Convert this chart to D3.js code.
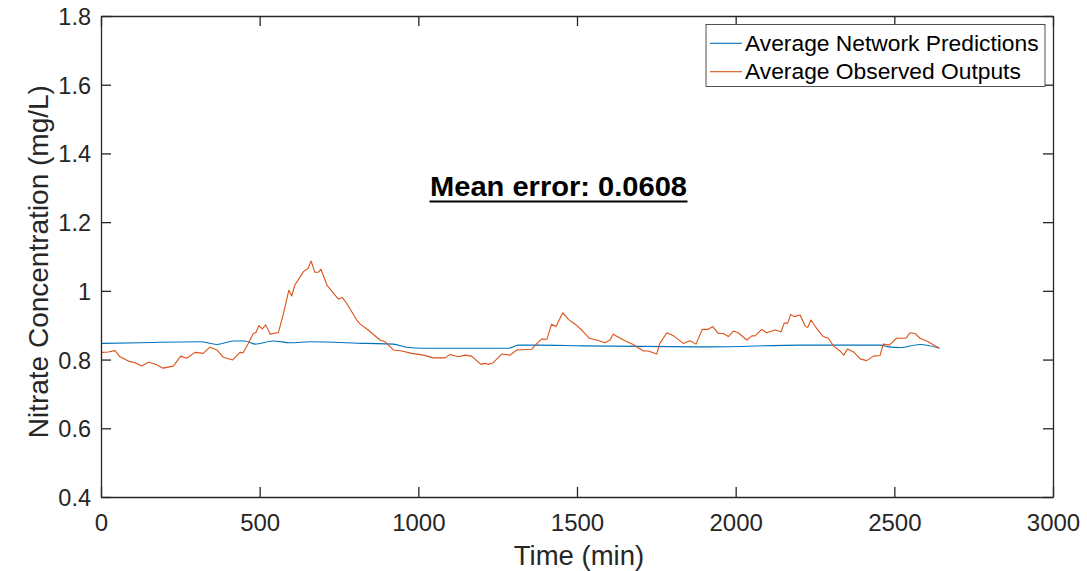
<!DOCTYPE html>
<html>
<head>
<meta charset="utf-8">
<script src="https://cdn.jsdelivr.net/npm/d3@7"></script>
<style>
  html, body { margin: 0; padding: 0; background: #fff; }
  svg { display: block; }
  text { font-family: "Liberation Sans", Arial, sans-serif; }
</style>
</head>
<body>
<svg id="chart" width="1087" height="571"></svg>
<script>
// ---- data ----
const xTicks = [0, 500, 1000, 1500, 2000, 2500, 3000];
const yTicks = [0.4, 0.6, 0.8, 1.0, 1.2, 1.4, 1.6, 1.8];
const seriesNames = ["Average Network Predictions", "Average Observed Outputs"];
const annotation = "Mean error: 0.0608";

const predTime = [2, 123, 312, 365, 417, 454, 485, 543, 596, 659, 837, 921, 963, 1016, 1163, 1284, 1315, 1373, 1520, 1919, 2203, 2455, 2481, 2518, 2581, 2642];
const predValue = [0.847, 0.849, 0.852, 0.844, 0.854, 0.854, 0.845, 0.854, 0.849, 0.852, 0.847, 0.845, 0.836, 0.833, 0.833, 0.833, 0.842, 0.842, 0.840, 0.837, 0.842, 0.842, 0.837, 0.835, 0.844, 0.833];

const obsTime = [2, 23, 44, 60, 91, 107, 128, 149, 170, 196, 228, 251, 270, 296, 322, 343, 365, 385, 415, 438, 448, 464, 480, 488, 498, 508, 519, 533, 559, 574, 592, 601, 611, 638, 653, 662, 674, 685, 693, 713, 748, 760, 774, 806, 816, 842, 879, 895, 921, 948, 979, 1016, 1047, 1084, 1100, 1126, 1147, 1168, 1197, 1210, 1220, 1236, 1263, 1289, 1310, 1357, 1371, 1389, 1405, 1420, 1434, 1455, 1473, 1494, 1515, 1539, 1562, 1588, 1604, 1614, 1651, 1677, 1709, 1725, 1751, 1761, 1783, 1804, 1835, 1856, 1875, 1895, 1914, 1928, 1945, 1961, 1977, 1993, 2008, 2035, 2051, 2061, 2082, 2098, 2124, 2143, 2153, 2164, 2173, 2184, 2203, 2219, 2227, 2237, 2255, 2276, 2292, 2308, 2329, 2341, 2352, 2373, 2392, 2413, 2434, 2455, 2465, 2484, 2507, 2537, 2549, 2565, 2581, 2607, 2628, 2642];
const obsValue = [0.821, 0.822, 0.826, 0.808, 0.794, 0.791, 0.781, 0.792, 0.787, 0.775, 0.781, 0.810, 0.804, 0.821, 0.818, 0.836, 0.828, 0.807, 0.799, 0.821, 0.820, 0.847, 0.876, 0.879, 0.899, 0.889, 0.901, 0.874, 0.879, 0.930, 1.002, 0.985, 1.017, 1.056, 1.066, 1.087, 1.054, 1.054, 1.063, 1.015, 0.976, 0.981, 0.964, 0.915, 0.904, 0.886, 0.857, 0.852, 0.828, 0.825, 0.818, 0.813, 0.805, 0.805, 0.815, 0.808, 0.813, 0.810, 0.786, 0.789, 0.786, 0.791, 0.816, 0.813, 0.828, 0.830, 0.844, 0.860, 0.859, 0.903, 0.896, 0.936, 0.917, 0.903, 0.886, 0.862, 0.857, 0.849, 0.857, 0.874, 0.855, 0.844, 0.825, 0.825, 0.816, 0.847, 0.878, 0.869, 0.847, 0.855, 0.845, 0.888, 0.888, 0.896, 0.876, 0.876, 0.867, 0.883, 0.878, 0.857, 0.869, 0.869, 0.888, 0.878, 0.886, 0.881, 0.906, 0.906, 0.931, 0.925, 0.930, 0.898, 0.893, 0.915, 0.891, 0.867, 0.862, 0.840, 0.825, 0.813, 0.831, 0.821, 0.802, 0.797, 0.810, 0.812, 0.845, 0.842, 0.862, 0.862, 0.878, 0.876, 0.862, 0.852, 0.840, 0.833];

const colors = ["#0072BD", "#D95319"];

// ---- layout ----
const svg = d3.select("#chart");
const L = 101, R = 1053, T = 16, B = 497;
const axisColor = "#262626";
const tickLen = 10;

const x = d3.scaleLinear().domain([0, 3000]).range([L, R]);
const y = d3.scaleLinear().domain([0.4, 1.8]).range([B, T]);

// series lines
const pred = predTime.map((t, i) => [t, predValue[i]]);
const obs = obsTime.map((t, i) => [t, obsValue[i]]);

const lineSmooth = d3.line().x(d => x(d[0])).y(d => y(d[1])).curve(d3.curveMonotoneX);
const lineRaw = d3.line().x(d => x(d[0])).y(d => y(d[1]));

svg.append("path").datum(pred).attr("d", lineSmooth)
  .attr("fill", "none").attr("stroke", colors[0]).attr("stroke-width", 1.1);
svg.append("path").datum(obs).attr("d", lineRaw)
  .attr("fill", "none").attr("stroke", colors[1]).attr("stroke-width", 1.1)
  .attr("stroke-linejoin", "round");

// axes (inward ticks)
const fmt = d => (Math.round(d * 10) / 10).toString();

const xAxisB = d3.axisBottom(x).tickValues(xTicks).tickSizeInner(-tickLen).tickSizeOuter(0).tickPadding(0).tickFormat(d3.format("d"));
const gxb = svg.append("g").attr("transform", `translate(0,${B})`).call(xAxisB);
const xAxisT = d3.axisTop(x).tickValues(xTicks).tickSizeInner(-tickLen).tickSizeOuter(0).tickFormat("");
const gxt = svg.append("g").attr("transform", `translate(0,${T})`).call(xAxisT);
const yAxisL = d3.axisLeft(y).tickValues(yTicks).tickSizeInner(-tickLen).tickSizeOuter(0).tickFormat(fmt);
const gyl = svg.append("g").attr("transform", `translate(${L},0)`).call(yAxisL);
const yAxisR = d3.axisRight(y).tickValues(yTicks).tickSizeInner(-tickLen).tickSizeOuter(0).tickFormat("");
const gyr = svg.append("g").attr("transform", `translate(${R},0)`).call(yAxisR);

[gxb, gxt, gyl, gyr].forEach(g => {
  g.select(".domain").attr("stroke", axisColor).attr("stroke-width", 1.3);
  g.selectAll(".tick line").attr("stroke", axisColor).attr("stroke-width", 1.3);
});
gxb.selectAll(".tick text")
  .attr("font-size", 24).attr("font-family", "Liberation Sans, Arial, sans-serif")
  .attr("fill", axisColor).attr("dy", null).attr("y", 34);
gyl.selectAll(".tick text")
  .attr("font-size", 23.5).attr("font-family", "Liberation Sans, Arial, sans-serif")
  .attr("fill", axisColor).attr("x", -10).attr("dy", "0.36em");

// axis labels
svg.append("text").attr("x", 579).attr("y", 565).attr("text-anchor", "middle")
  .attr("font-size", 27.5).attr("fill", axisColor).text("Time (min)");
svg.append("text").attr("transform", `translate(48,${261.7}) rotate(-90)`)
  .attr("text-anchor", "middle").attr("font-size", 28).attr("fill", axisColor)
  .text("Nitrate Concentration (mg/L)");

// annotation
svg.append("text").attr("x", 430).attr("y", 196)
  .attr("font-family", "Lato, Open Sans, sans-serif").attr("font-weight", "bold")
  .attr("font-size", 27).attr("fill", "#000")
  .attr("textLength", 257).attr("lengthAdjust", "spacingAndGlyphs")
  .text(annotation);
svg.append("line").attr("x1", 429.5).attr("x2", 687.5).attr("y1", 201.5).attr("y2", 201.5)
  .attr("stroke", "#000").attr("stroke-width", 2);

// legend
const lg = svg.append("g");
lg.append("rect").attr("x", 706).attr("y", 24.5).attr("width", 339).attr("height", 62)
  .attr("fill", "#fff").attr("stroke", axisColor).attr("stroke-width", 0.8);
seriesNames.forEach((name, i) => {
  const cy = 43.3 + i * 28.4;
  lg.append("line").attr("x1", 710).attr("x2", 742).attr("y1", cy).attr("y2", cy)
    .attr("stroke", colors[i]).attr("stroke-width", 1.1);
  lg.append("text").attr("x", 745).attr("y", cy + 7.5).attr("font-size", 22.8)
    .attr("fill", "#000").text(name);
});
</script>
</body>
</html>
